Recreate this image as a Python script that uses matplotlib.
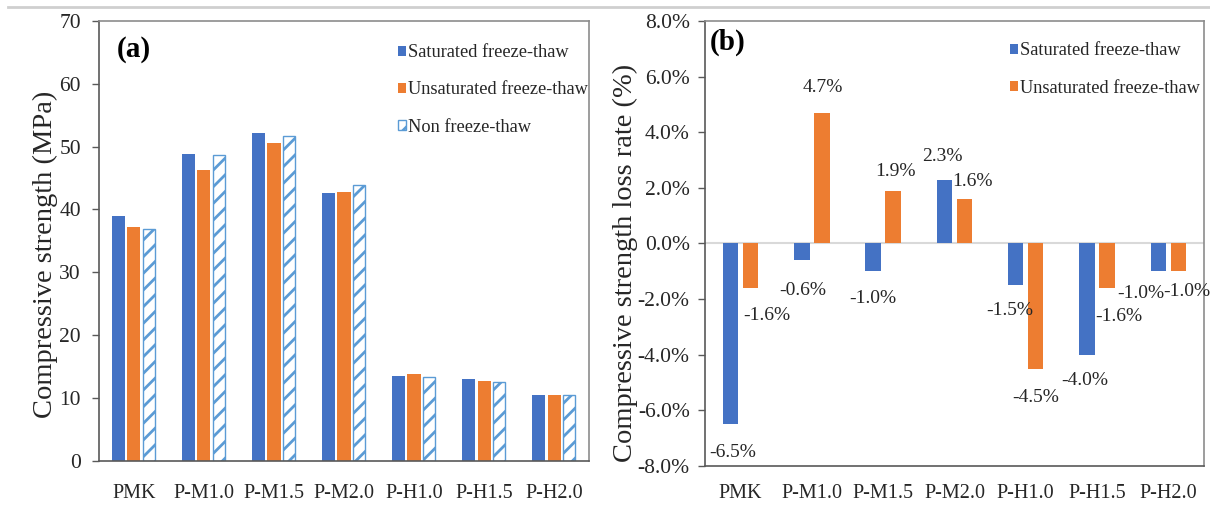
import numpy as np
import matplotlib
matplotlib.use("Agg")
import matplotlib.pyplot as plt
from matplotlib.lines import Line2D
from matplotlib.ticker import FuncFormatter

# Mix groups
groups = ["PMK", "P-M1.0", "P-M1.5", "P-M2.0", "P-H1.0", "P-H1.5", "P-H2.0"]

# (a) compressive strength, MPa
strength_saturated = [39.0, 48.8, 52.2, 42.6, 13.4, 13.0, 10.5]
strength_unsaturated = [37.2, 46.2, 50.6, 42.8, 13.8, 12.6, 10.5]
strength_none = [36.8, 48.7, 51.7, 43.8, 13.3, 12.5, 10.4]

# (b) compressive strength loss rate, %
loss_saturated = [-6.5, -0.6, -1.0, 2.3, -1.5, -4.0, -1.0]
loss_unsaturated = [-1.6, 4.7, 1.9, 1.6, -4.5, -1.6, -1.0]

BLUE = "#4472C4"
ORANGE = "#ED7D31"
LIGHT_BLUE = "#5B9BD5"
SPINE_DARK = "#595959"
SPINE_LIGHT = "#8c8c8c"

plt.rcParams["font.family"] = ["Liberation Serif", "DejaVu Serif"]
plt.rcParams["hatch.linewidth"] = 2.0
plt.rcParams["hatch.color"] = LIGHT_BLUE

fig = plt.figure(figsize=(12.1, 5.13), dpi=100)
ax1 = fig.add_axes([0.0818, 0.1023, 0.4050, 0.8568])
ax2 = fig.add_axes([0.5826, 0.0916, 0.4124, 0.8675])

# thin rule along the top edge
fig.add_artist(Line2D([0.007, 1.0], [0.986, 0.986], color="#cfcfcf", lw=2))

x = np.arange(len(groups))

legend_kw = dict(loc="upper right", frameon=False, fontsize=13.2,
                 handlelength=0.44, handleheight=0.44, handletextpad=0.12,
                 labelspacing=1.1, borderpad=0, borderaxespad=0,
                 labelcolor="#262626")


def style_axes(ax):
    for side in ["top", "right"]:
        ax.spines[side].set_color(SPINE_LIGHT)
        ax.spines[side].set_linewidth(1.2)
    for side in ["left", "bottom"]:
        ax.spines[side].set_color(SPINE_DARK)
        ax.spines[side].set_linewidth(1.2)
    ax.set_xlim(-0.5, len(groups) - 0.5)
    ax.set_xticks(x)
    ax.set_xticklabels(groups, fontsize=14.5, color="#262626")
    ax.tick_params(axis="x", length=0)
    ax.tick_params(axis="y", length=5, width=1, color=SPINE_DARK,
                   labelsize=15.5, labelcolor="#262626")


# (a) strength bars
off1 = 0.215
w1 = 0.186
ax1.bar(x - off1, strength_saturated, w1, color=BLUE, label="Saturated freeze-thaw")
ax1.bar(x, strength_unsaturated, w1, color=ORANGE, label="Unsaturated freeze-thaw")
ax1.bar(x + off1, strength_none, w1 - 0.02, color="white", edgecolor=LIGHT_BLUE,
        linewidth=1.0, hatch="//", label="Non freeze-thaw")
ax1.set_ylim(0, 70)
ax1.set_yticks(np.arange(0, 71, 10))
style_axes(ax1)
ax1.tick_params(axis="x", pad=17)
ax1.tick_params(axis="y", pad=8)
ax1.set_ylabel("Compressive strength (MPa)", fontsize=20.5, color="#262626")
ax1.yaxis.set_label_coords(-0.084, 0.47)
ax1.text(0.037, 0.934, "(a)", transform=ax1.transAxes, fontsize=21,
         fontweight="bold", ha="left", va="center")
ax1.legend(bbox_to_anchor=(0.998, 0.947), **legend_kw)

# (b) loss-rate bars
off2 = 0.14
w2 = 0.217
ax2.axhline(0, color="#d9d9d9", lw=1.5, zorder=0.5)
bars_sat = ax2.bar(x - off2, loss_saturated, w2, color=BLUE,
                   label="Saturated freeze-thaw")
bars_uns = ax2.bar(x + off2, loss_unsaturated, w2, color=ORANGE,
                   label="Unsaturated freeze-thaw")
ax2.set_ylim(-8, 8)
ax2.set_yticks(np.arange(-8, 8.1, 2))
ax2.yaxis.set_major_formatter(FuncFormatter(lambda v, p: f"{v:.1f}%"))
style_axes(ax2)
ax2.tick_params(axis="x", pad=13)
ax2.tick_params(axis="y", pad=6)
ax2.set_ylabel("Compressive strength loss rate (%)", fontsize=20.5, color="#262626")
ax2.yaxis.set_label_coords(-0.134, 0.456)
ax2.text(0.01, 0.951, "(b)", transform=ax2.transAxes, fontsize=21,
         fontweight="bold", ha="left", va="center")
ax2.legend(bbox_to_anchor=(0.992, 0.952), **legend_kw)

# value labels, nudged (in pixels) so neighbours don't collide
sat_nudge = [(2, -28), (1, -30), (0, -27), (-2, 23), (-6, -25), (-2, -26), (-18, -22)]
uns_nudge = [(16, -28), (1, 25), (2, 19), (8, 17), (0, -29), (12, -29), (9, -20)]
for bars, vals, nudges in [(bars_sat, loss_saturated, sat_nudge),
                           (bars_uns, loss_unsaturated, uns_nudge)]:
    for bar, v, (dx, dy) in zip(bars, vals, nudges):
        ax2.annotate(f"{v:.1f}%", (bar.get_x() + bar.get_width() / 2, v),
                     xytext=(dx, dy), textcoords="offset pixels",
                     ha="center", va="center", fontsize=14, color="#262626")

fig.savefig("out.png", dpi=100)
